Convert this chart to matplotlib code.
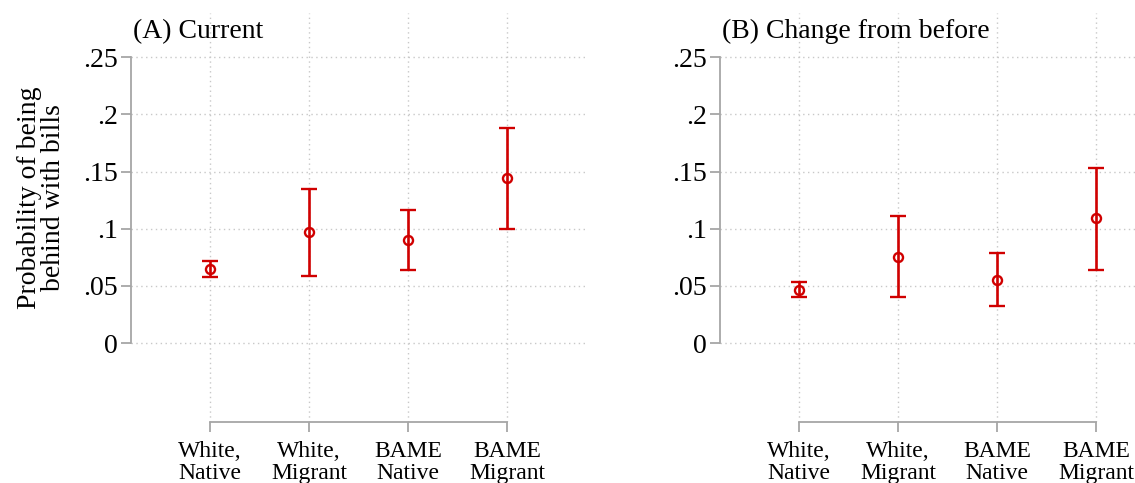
import matplotlib
matplotlib.use("Agg")
from matplotlib import pyplot as plt

# Data
groups = ["White,\nNative", "White,\nMigrant", "BAME\nNative", "BAME\nMigrant"]
positions = [1, 2, 3, 4]

current_est = [0.065, 0.097, 0.090, 0.144]
current_lo = [0.058, 0.059, 0.064, 0.100]
current_hi = [0.072, 0.135, 0.116, 0.188]

change_est = [0.046, 0.075, 0.055, 0.109]
change_lo = [0.040, 0.040, 0.032, 0.064]
change_hi = [0.053, 0.111, 0.079, 0.153]

yticks = [0, 0.05, 0.1, 0.15, 0.2, 0.25]
ytick_labels = ["0", ".05", ".1", ".15", ".2", ".25"]

plt.rcParams['font.family'] = ['Liberation Serif', 'DejaVu Serif']

red = '#d00000'
spine_grey = '#a6a6a6'
grid_grey = '#c8c8c8'

fig = plt.figure(figsize=(11.35, 4.83), dpi=100)
ax_a = fig.add_axes([0.1154, 0.1253, 0.4009, 0.8478])
ax_b = fig.add_axes([0.6344, 0.1253, 0.4009, 0.8478])


def draw_panel(ax, est, lo, hi, title):
    err = [[e - l for e, l in zip(est, lo)], [h - e for e, h in zip(est, hi)]]
    ax.errorbar(positions, est, yerr=err, fmt='o', color=red, ecolor=red,
                elinewidth=1.9, capsize=6, capthick=1.9, markersize=6.5,
                markerfacecolor='none', markeredgewidth=1.7, zorder=3)

    ax.set_xlim(0.2, 4.8)
    ax.set_ylim(-0.0695, 0.2887)

    ax.set_xticks(positions)
    ax.set_xticklabels(groups, fontsize=17, linespacing=1.05)
    ax.set_yticks(yticks)
    ax.set_yticklabels(ytick_labels, fontsize=20)

    for side in ['top', 'right']:
        ax.spines[side].set_visible(False)
    ax.spines['left'].set_bounds(0, 0.25)
    ax.spines['bottom'].set_bounds(1, 4)
    for side in ['left', 'bottom']:
        ax.spines[side].set_color(spine_grey)
        ax.spines[side].set_linewidth(1.3)

    ax.tick_params(axis='both', color=spine_grey, width=1.3, length=7.5)
    ax.tick_params(axis='y', pad=2)
    ax.tick_params(axis='x', pad=6)

    ax.grid(True, color=grid_grey, linestyle=(0, (1, 2.5)), linewidth=1.0)
    ax.set_axisbelow(True)

    ax.text(0.004, 0.986, title, transform=ax.transAxes, fontsize=20,
            ha='left', va='top')


draw_panel(ax_a, current_est, current_lo, current_hi, "(A) Current")
draw_panel(ax_b, change_est, change_lo, change_hi, "(B) Change from before")

ax_a.set_ylabel("Probability of being\nbehind with bills", fontsize=20,
                linespacing=0.95)
ax_a.yaxis.set_label_coords(-0.142, 0.55)

fig.savefig("out.png", dpi=100)
